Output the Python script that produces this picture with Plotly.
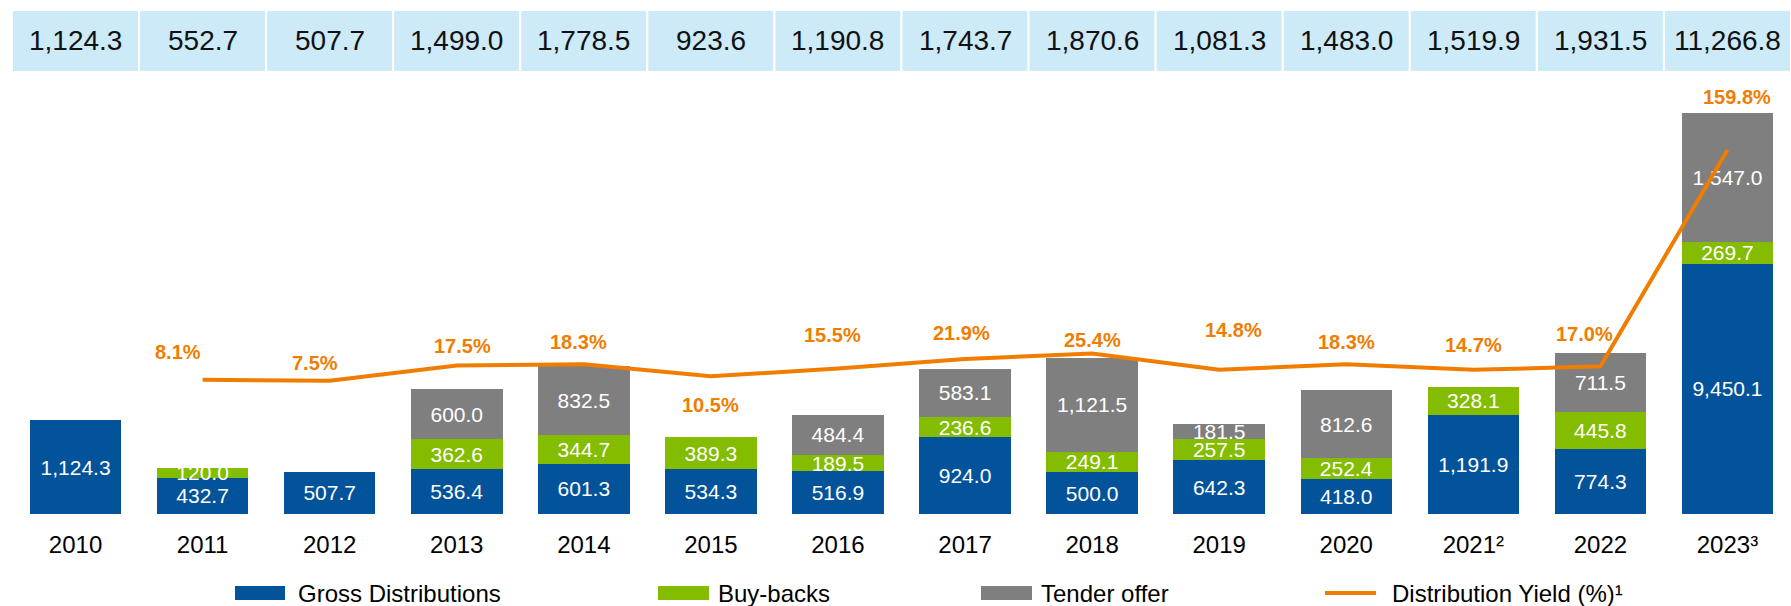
import plotly.graph_objects as go

# ---------------- data ----------------
years = ["2010", "2011", "2012", "2013", "2014", "2015", "2016", "2017",
         "2018", "2019", "2020", "2021²", "2022", "2023³"]
gross = [1124.3, 432.7, 507.7, 536.4, 601.3, 534.3, 516.9, 924.0,
         500.0, 642.3, 418.0, 1191.9, 774.3, 9450.1]
buybacks = [None, 120.0, None, 362.6, 344.7, 389.3, 189.5, 236.6,
            249.1, 257.5, 252.4, 328.1, 445.8, 269.7]
tender = [None, None, None, 600.0, 832.5, None, 484.4, 583.1,
          1121.5, 181.5, 812.6, None, 711.5, 1547.0]
yield_pct = [None, 8.1, 7.5, 17.5, 18.3, 10.5, 15.5, 21.9,
             25.4, 14.8, 18.3, 14.7, 17.0, 159.8]
totals = [1124.3, 552.7, 507.7, 1499.0, 1778.5, 923.6, 1190.8, 1743.7,
          1870.6, 1081.3, 1483.0, 1519.9, 1931.5, 11266.8]

# broken value axis: segments taller than this are drawn truncated
AXIS_BREAK = 3000

# ---------------- styling ----------------
BLUE = "#02539A"
GREEN = "#84BD00"
GREY = "#7F7F7F"
ORANGE = "#F07D00"
BAND = "#CCEAF7"
FONT = "Liberation Sans, Arial, sans-serif"

# label offsets (px) of the yield labels relative to their point
label_dx = [0, -25, -15, 6, -5, 0, -5, -4, 0, 14, 0, 0, -16, 10]
label_dy = [0, 28, 18, 20, 22, -29, 34, 26, 14, 40, 22, 25, 32, 53]

W, H = 1791, 606
ML, MR, MT, MB = 12, 0, 80, 92
PW = W - ML - MR
PH = H - MT - MB


def fmt(v):
    return "" if v is None else f"{v:,.1f}"


def px_to_paper_y(y):
    return (H - MB - y) / PH


def px_to_paper_x(x):
    return (x - ML) / PW


fig = go.Figure()

gross_drawn = [min(v, AXIS_BREAK) for v in gross]

for name, vals, drawn, col in [
    ("Gross Distributions", gross, gross_drawn, BLUE),
    ("Buy-backs", buybacks, buybacks, GREEN),
    ("Tender offer", tender, tender, GREY),
]:
    fig.add_trace(go.Bar(
        x=years, y=drawn, name=name, marker=dict(color=col, line=dict(width=0)),
        text=[fmt(v) for v in vals], textposition="inside",
        insidetextanchor="middle", textangle=0,
        textfont=dict(family=FONT, size=21, color="white"),
        cliponaxis=False, showlegend=False, hoverinfo="skip",
    ))

fig.add_trace(go.Scatter(
    x=years, y=yield_pct, yaxis="y2", mode="lines", name="Distribution Yield (%)¹",
    line=dict(color=ORANGE, width=4), connectgaps=False,
    showlegend=False, hoverinfo="skip", cliponaxis=False,
))

annotations = []
shapes = []

# yield labels (category index used as x so numeric-looking names are safe)
for i, v in enumerate(yield_pct):
    if v is None:
        continue
    annotations.append(dict(
        x=i, y=v, xref="x", yref="y2", text=f"<b>{v:.1f}%</b>",
        showarrow=False, xshift=label_dx[i], yshift=label_dy[i],
        font=dict(family=FONT, size=20, color=ORANGE),
    ))

# top band with totals
band_y0 = px_to_paper_y(72)
band_y1 = px_to_paper_y(10)
for i, t in enumerate(totals):
    shapes.append(dict(
        type="rect", xref="x", yref="paper", x0=i - 0.5, x1=i + 0.5,
        y0=band_y0, y1=band_y1, fillcolor=BAND,
        line=dict(color="white", width=2), layer="below",
    ))
    annotations.append(dict(
        x=i, y=(band_y0 + band_y1) / 2, xref="x", yref="paper",
        text=fmt(t), showarrow=False, yanchor="middle",
        font=dict(family=FONT, size=28, color="#111111"),
    ))

# legend (manual)
legend_items = [
    ("Gross Distributions", BLUE, "box", 235, 285, 296),
    ("Buy-backs", GREEN, "box", 658, 709, 716),
    ("Tender offer", GREY, "box", 981, 1032, 1039),
    ("Distribution Yield (%)¹", ORANGE, "line", 1325, 1376, 1390),
]
ly = 593
for name, col, kind, x0, x1, tx in legend_items:
    if kind == "box":
        shapes.append(dict(
            type="rect", xref="paper", yref="paper",
            x0=px_to_paper_x(x0), x1=px_to_paper_x(x1),
            y0=px_to_paper_y(ly + 7), y1=px_to_paper_y(ly - 7),
            fillcolor=col, line=dict(width=0),
        ))
    else:
        shapes.append(dict(
            type="line", xref="paper", yref="paper",
            x0=px_to_paper_x(x0), x1=px_to_paper_x(x1),
            y0=px_to_paper_y(ly), y1=px_to_paper_y(ly),
            line=dict(color=col, width=4),
        ))
    annotations.append(dict(
        x=px_to_paper_x(tx), y=px_to_paper_y(ly), xref="paper", yref="paper",
        xanchor="left", yanchor="middle", text=name, showarrow=False,
        font=dict(family=FONT, size=24, color="#000000"),
    ))

fig.update_layout(
    width=W, height=H,
    margin=dict(l=ML, r=MR, t=MT, b=MB),
    paper_bgcolor="white", plot_bgcolor="white",
    barmode="stack", bargap=0.28,
    uniformtext=dict(minsize=21, mode="show"),
    xaxis=dict(type="category", range=[-0.5, 13.5], showgrid=False,
               showline=False, zeroline=False, ticks="",
               tickfont=dict(family=FONT, size=24, color="#000000"),
               ticklabelstandoff=14, fixedrange=True),
    yaxis=dict(visible=False, range=[0, PH / 0.08334], fixedrange=True),
    yaxis2=dict(visible=False, overlaying="y", range=[-80.46, 206.0],
                fixedrange=True),
    annotations=annotations, shapes=shapes,
    showlegend=False,
)

fig.write_html("out.html")
